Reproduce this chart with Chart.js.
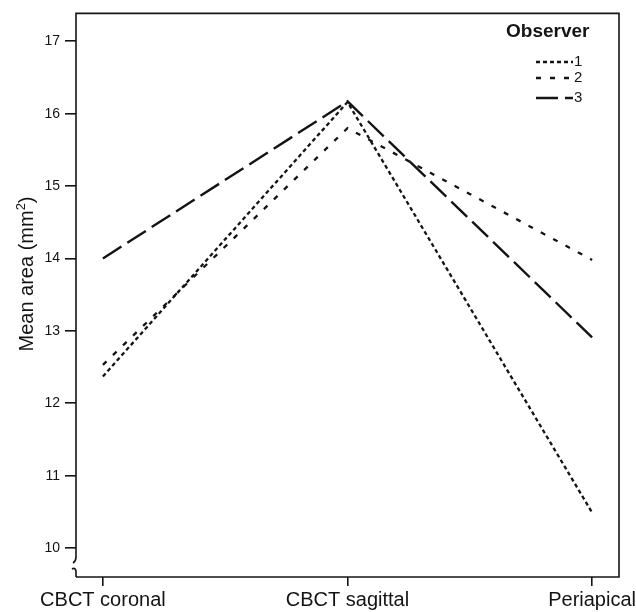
<!DOCTYPE html>
<html><head><meta charset="utf-8">
<script src="https://cdn.jsdelivr.net/npm/chart.js@4.4.0/dist/chart.umd.min.js"></script>
<style>html,body{margin:0;padding:0;background:#fff}#wrap{width:636px;height:612px}</style>
</head><body><div id="wrap"><canvas id="c" width="636" height="612"></canvas></div>
<script>
const categories = ["CBCT coronal", "CBCT sagittal", "Periapical"];
const observerLabels = ["1", "2", "3"];
const observer1 = [12.37, 16.16, 10.49];
const observer2 = [12.53, 15.80, 13.98];
const observer3 = [14.00, 16.17, 12.91];
const yTicks = [10, 11, 12, 13, 14, 15, 16, 17];

const FONT = "'Liberation Sans', Arial, sans-serif";
const INK = "#141414";

function pts(arr){ return arr.map((v,i)=>({x:i, y:v})); }

const dashes = [[4,3],[5,9],[22,7]];
const widths = [2.3,2.3,2.4];

const framePlugin = {
  id: 'frame',
  afterDraw(chart){
    const {ctx, chartArea:{left:L, right:R, top:T, bottom:B}} = chart;
    ctx.save();
    ctx.strokeStyle = INK; ctx.lineWidth = 1.6; ctx.setLineDash([]);
    ctx.beginPath();
    ctx.moveTo(L, 557); ctx.lineTo(L, T); ctx.lineTo(R, T); ctx.lineTo(R, B); ctx.lineTo(L, B);
    ctx.stroke();
    // axis break marks
    ctx.beginPath();
    ctx.moveTo(L, 557); ctx.quadraticCurveTo(L, 561, L-3, 563);
    ctx.stroke();
    ctx.beginPath();
    ctx.moveTo(L-4, 569); ctx.quadraticCurveTo(L-1, 567, L, 571); ctx.lineTo(L, B);
    ctx.stroke();
    // y title
    ctx.fillStyle = INK;
    ctx.save();
    ctx.translate(33, 274);
    ctx.rotate(-Math.PI/2);
    ctx.font = "20px " + FONT;
    ctx.textAlign = 'left'; ctx.textBaseline = 'alphabetic';
    const t1 = "Mean area (mm";
    const w1 = ctx.measureText(t1).width;
    ctx.font = "13px " + FONT;
    const w2 = ctx.measureText("2").width;
    ctx.font = "20px " + FONT;
    const w3 = ctx.measureText(")").width;
    const total = w1 + w2 + w3;
    let x0 = -total/2;
    ctx.fillText(t1, x0, 0);
    ctx.font = "13px " + FONT;
    ctx.fillText("2", x0 + w1, -8);
    ctx.font = "20px " + FONT;
    ctx.fillText(")", x0 + w1 + w2, 0);
    ctx.restore();
    // legend
    ctx.font = "bold 19px " + FONT;
    ctx.textAlign = 'left'; ctx.textBaseline = 'middle';
    ctx.fillText("Observer", 506, 32);
    const ys = [62, 78, 98];
    chart.data.datasets.forEach((ds, i) => {
      ctx.save();
      ctx.strokeStyle = INK;
      ctx.lineWidth = ds.borderWidth;
      ctx.setLineDash(ds.borderDash);
      ctx.beginPath();
      ctx.moveTo(536, ys[i]); ctx.lineTo(573, ys[i]);
      ctx.stroke();
      ctx.restore();
      ctx.font = "15px " + FONT;
      ctx.fillText(ds.label, 574, ys[i]);
    });
    ctx.restore();
  }
};

new Chart(document.getElementById('c'), {
  type: 'line',
  data: {
    datasets: [observer1, observer2, observer3].map((arr, i) => ({
      label: observerLabels[i],
      data: pts(arr),
      borderColor: INK,
      borderWidth: widths[i],
      borderDash: dashes[i],
      borderCapStyle: 'butt',
      pointRadius: 0,
      tension: 0,
      fill: false
    }))
  },
  options: {
    responsive: false,
    animation: false,
    devicePixelRatio: 1,
    layout: { padding: { top: 10, right: 17, left: 0, bottom: 0 } },
    plugins: { legend: { display: false }, tooltip: { enabled: false } },
    scales: {
      x: {
        type: 'linear', min: -0.11, max: 2.11,
        afterBuildTicks: s => { s.ticks = categories.map((c, i) => ({ value: i })); },
        afterFit: s => { s.height = 35; s.paddingLeft = 0; s.paddingRight = 0; },
        ticks: { autoSkip: false, maxRotation: 0, color: INK, padding: 2,
          font: { family: FONT, size: 20 }, callback: v => categories[v] },
        grid: { drawOnChartArea: false, drawTicks: true, tickLength: 9, color: INK, lineWidth: 1.6 },
        border: { display: false }
      },
      y: {
        type: 'linear', min: 9.6, max: 17.385,
        afterBuildTicks: s => { s.ticks = yTicks.map(v => ({ value: v })); },
        afterFit: s => { s.width = 76; },
        ticks: { color: INK, padding: 5, font: { family: FONT, size: 14 } },
        grid: { drawOnChartArea: false, drawTicks: true, tickLength: 11, color: INK, lineWidth: 1.6 },
        border: { display: false }
      }
    }
  },
  plugins: [framePlugin]
});
</script>
</body></html>
